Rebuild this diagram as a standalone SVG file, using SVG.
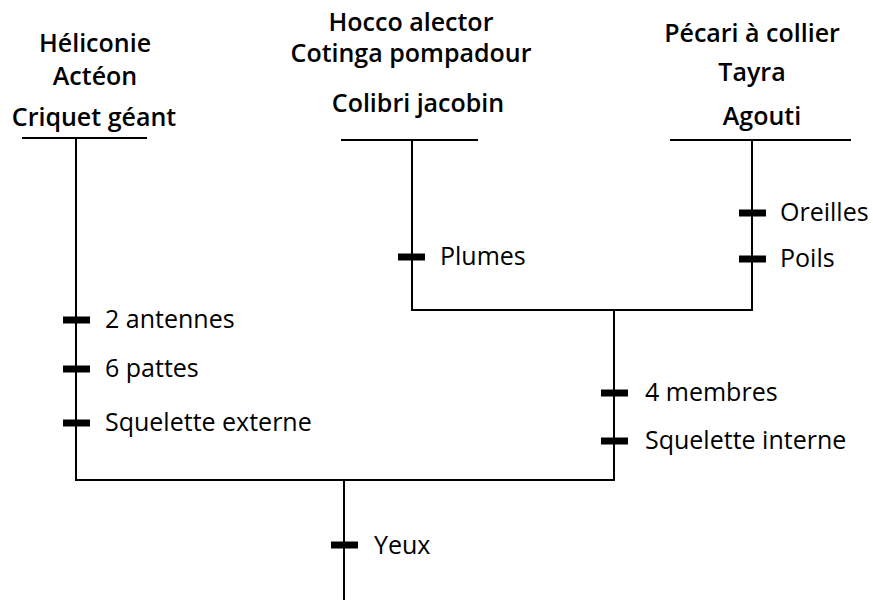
<svg xmlns="http://www.w3.org/2000/svg" width="873" height="600" viewBox="0 0 873 600">
<style>
.taxon{font-family:"Open Sans","Noto Sans",sans-serif;font-size:25px;font-weight:600;fill:#000;text-anchor:middle}
.lab{font-family:"Open Sans","Noto Sans",sans-serif;font-size:25px;font-weight:400;fill:#000}
.ln{stroke:#000;stroke-width:2;fill:none}
.tick{stroke:#000;stroke-width:7;fill:none}
</style>
<rect width="873" height="600" fill="#fff"/>
<g id="arthropodes">
<text class="taxon" x="95" y="52">Héliconie</text>
<text class="taxon" x="95" y="85">Actéon</text>
<text class="taxon" x="94" y="126">Criquet géant</text>
</g>
<g id="oiseaux">
<text class="taxon" x="411" y="31">Hocco alector</text>
<text class="taxon" x="411" y="62">Cotinga pompadour</text>
<text class="taxon" x="418" y="112">Colibri jacobin</text>
</g>
<g id="mammiferes">
<text class="taxon" x="752" y="42">Pécari à collier</text>
<text class="taxon" x="752" y="81">Tayra</text>
<text class="taxon" x="762" y="125">Agouti</text>
</g>
<g id="connectors">
<line class="ln" x1="22" y1="138" x2="147" y2="138"/>
<line class="ln" x1="76" y1="138" x2="76" y2="481"/>
<line class="ln" x1="341" y1="140" x2="478" y2="140"/>
<line class="ln" x1="412" y1="140" x2="412" y2="311"/>
<line class="ln" x1="670" y1="140" x2="851" y2="140"/>
<line class="ln" x1="752" y1="140" x2="752" y2="311"/>
<line class="ln" x1="411" y1="310" x2="753" y2="310"/>
<line class="ln" x1="614" y1="310" x2="614" y2="481"/>
<line class="ln" x1="75" y1="480" x2="615" y2="480"/>
<line class="ln" x1="344" y1="480" x2="344" y2="600"/>
</g>
<g id="caracteres">
<line class="tick" x1="63" y1="320" x2="90" y2="320"/>
<line class="tick" x1="63" y1="369" x2="90" y2="369"/>
<line class="tick" x1="63" y1="423" x2="90" y2="423"/>
<line class="tick" x1="398" y1="257" x2="425" y2="257"/>
<line class="tick" x1="739" y1="213" x2="766" y2="213"/>
<line class="tick" x1="739" y1="259" x2="766" y2="259"/>
<line class="tick" x1="601" y1="393" x2="628" y2="393"/>
<line class="tick" x1="601" y1="441" x2="628" y2="441"/>
<line class="tick" x1="331" y1="545" x2="358" y2="545"/>
<text class="lab" x="105" y="328">2 antennes</text>
<text class="lab" x="105" y="377">6 pattes</text>
<text class="lab" x="105" y="431">Squelette externe</text>
<text class="lab" x="440" y="265">Plumes</text>
<text class="lab" x="780" y="221">Oreilles</text>
<text class="lab" x="780" y="267">Poils</text>
<text class="lab" x="645" y="401">4 membres</text>
<text class="lab" x="645" y="449">Squelette interne</text>
<text class="lab" x="374" y="554">Yeux</text>
</g>
</svg>
